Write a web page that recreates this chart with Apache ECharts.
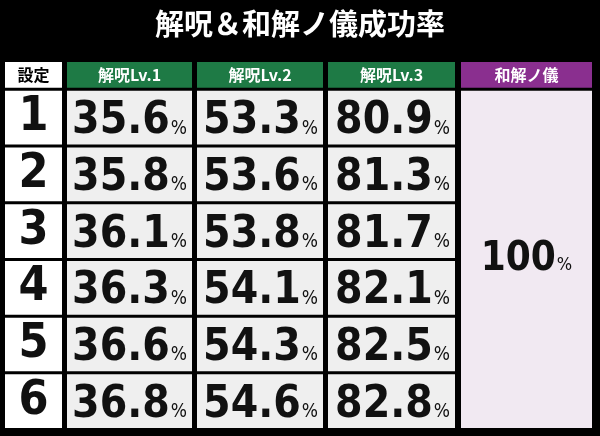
<!DOCTYPE html><html><head><meta charset="utf-8">
<script src="https://cdn.jsdelivr.net/npm/echarts@6/dist/echarts.min.js"></script>
<style>html,body{margin:0;background:#000}#c{width:600px;height:436px}</style></head><body><div id="c"></div>
<script>
const title = '解呪＆和解ノ儀成功率';
const headers = ['設定','解呪Lv.1','解呪Lv.2','解呪Lv.3','和解ノ儀'];
const settings = ['1','2','3','4','5','6'];
const lv1 = [35.6,35.8,36.1,36.3,36.6,36.8];
const lv2 = [53.3,53.6,53.8,54.1,54.3,54.6];
const lv3 = [80.9,81.3,81.7,82.1,82.5,82.8];
const wakai = 100;

const colEdges = [[0,57],[62,187],[192,318],[323,450],[456,587]];
const headerH = 26, rowTop = 29, rowH = 57, rowGap = 3;
const headerFill = ['#ffffff','#1e7a45','#1e7a45','#1e7a45','#8a2f8f'];
const numFont = '"DejaVu Sans Condensed",sans-serif';

const items = [];
headers.forEach((h,c)=>items.push({kind:'head',c,text:h}));
settings.forEach((s,r)=>{
  items.push({kind:'set',c:0,r,text:s});
  [lv1,lv2,lv3].forEach((arr,k)=>items.push({kind:'val',c:k+1,r,text:arr[r].toFixed(1)}));
});
items.push({kind:'merge',c:4,r:0,text:String(wakai)});

function rectFor(api,it){
  const [x0,x1]=colEdges[it.c];
  let y0,y1;
  if(it.kind==='head'){y0=0;y1=headerH;}
  else if(it.kind==='merge'){y0=rowTop;y1=rowTop+rowH*settings.length-rowGap;}
  else {y0=rowTop+rowH*it.r;y1=y0+rowH-rowGap;}
  const p0=api.coord([x0,y0]), p1=api.coord([x1,y1]);
  return {x:p0[0],y:p0[1],width:p1[0]-p0[0],height:p1[1]-p0[1]};
}
const chart = echarts.init(document.getElementById('c'));
chart.setOption({
  backgroundColor:'#000',
  title:{text:title,left:'center',top:4,textStyle:{color:'#fff',fontSize:29,fontWeight:'bold',fontFamily:'"Noto Sans CJK JP",sans-serif'}},
  grid:{left:5,right:8,top:62,bottom:2},
  xAxis:{type:'value',min:0,max:587,show:false},
  yAxis:{type:'value',min:0,max:374,inverse:true,show:false},
  series:[{type:'custom',data:items.map((_,i)=>[i]),renderItem:(params,api)=>{
    const it=items[params.dataIndex]; const r=rectFor(api,it);
    let fill, textCfg;
    if(it.kind==='head'){
      fill=headerFill[it.c];
      textCfg={text:it.text,fill:it.c===0?'#000':'#fff',font:'bold 16px "Noto Sans CJK JP",sans-serif'};
    } else if(it.kind==='set'){
      fill='#ffffff';
      textCfg={text:it.text,fill:'#111',font:'bold 48px '+numFont};
    } else if(it.kind==='val'){
      fill='#efefef';
      textCfg={text:'{n|'+it.text+'}{p|%}',rich:{n:{fontSize:44,fontWeight:'bold',fontFamily:numFont,fill:'#111'},p:{fontSize:19,fontFamily:numFont,fill:'#111',padding:[14,0,0,1]}}};
    } else {
      fill='#f1e9f2';
      textCfg={text:'{n|'+it.text+'}{p|%}',rich:{n:{fontSize:40,fontWeight:'bold',fontFamily:numFont,fill:'#111'},p:{fontSize:18,fontFamily:numFont,fill:'#111',padding:[12,0,0,1]}}};
    }
    const el={type:'rect',shape:r,style:{fill},textContent:{style:Object.assign({align:'center',verticalAlign:'middle'},textCfg)},textConfig:{position:'inside'}};
    if(it.kind==='val'){el.textConfig={position:[r.width-5,r.height/2+4]};el.textContent.style.align='right';}
    return el;
  }}]
});
</script></body></html>
